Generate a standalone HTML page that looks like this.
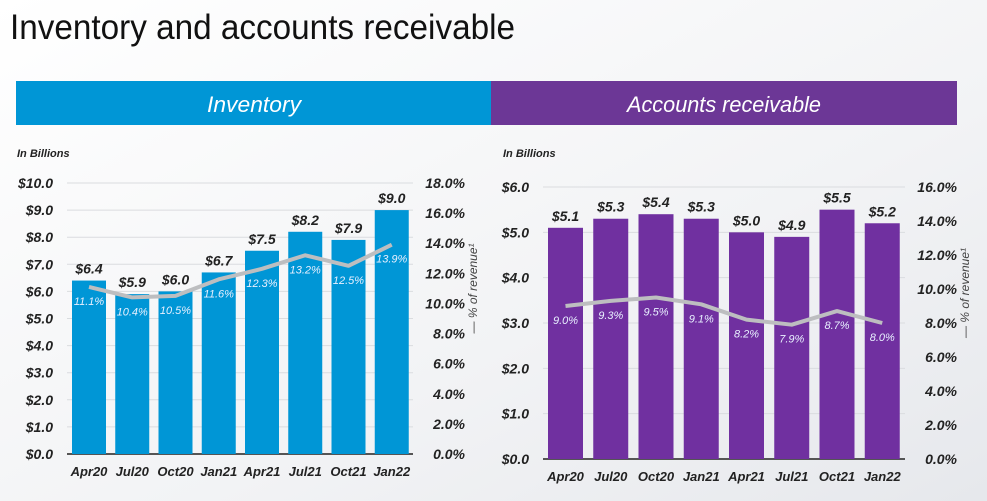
<!DOCTYPE html>
<html><head><meta charset="utf-8"><style>
body{margin:0;width:987px;height:501px;overflow:hidden;background:#f3f4f6}
svg{display:block;font-family:"Liberation Sans",sans-serif}
</style></head><body>
<svg id="s" width="987" height="501" viewBox="0 0 987 501">
<defs><linearGradient id="bg" x1="0" y1="0" x2="1" y2="1"><stop offset="0" stop-color="#ffffff"/><stop offset="0.6" stop-color="#f2f3f5"/><stop offset="1" stop-color="#e6e8ec"/></linearGradient></defs>
<rect width="987" height="501" fill="url(#bg)"/>
<text x="10" y="39" font-size="35" fill="#111" textLength="505" lengthAdjust="spacingAndGlyphs">Inventory and accounts receivable</text>
<rect x="16" y="81" width="475" height="44" fill="#0096d6"/>
<rect x="491" y="81" width="466" height="44" fill="#6c3796"/>
<text x="254" y="112" font-size="22" font-style="italic" fill="#fff" text-anchor="middle" textLength="94" lengthAdjust="spacingAndGlyphs">Inventory</text>
<text x="724" y="112" font-size="22" font-style="italic" fill="#fff" text-anchor="middle" textLength="194" lengthAdjust="spacingAndGlyphs">Accounts receivable</text>
<g id="c1"></g><g id="c2"></g>
</svg>
<script>
const categories=["Apr20","Jul20","Oct20","Jan21","Apr21","Jul21","Oct21","Jan22"];
const invValues=[6.4,5.9,6.0,6.7,7.5,8.2,7.9,9.0];
const invPct=[11.1,10.4,10.5,11.6,12.3,13.2,12.5,13.9];
const invLeftTicks=[0,1,2,3,4,5,6,7,8,9,10];
const invRightTicks=[0,2,4,6,8,10,12,14,16,18];
const arValues=[5.1,5.3,5.4,5.3,5.0,4.9,5.5,5.2];
const arPct=[9.0,9.3,9.5,9.1,8.2,7.9,8.7,8.0];
const arLeftTicks=[0,1,2,3,4,5,6];
const arRightTicks=[0,2,4,6,8,10,12,14,16];
const NS="http://www.w3.org/2000/svg";
function el(p,t,a,txt){const e=document.createElementNS(NS,t);for(const k in a)e.setAttribute(k,a[k]);if(txt!==undefined)e.textContent=txt;p.appendChild(e);return e;}
function chart(g,o){
  const {x0,x1,yb,yt,lmax,rmax,vals,pct,lt,rt,color,barOff,barW,lx,rx,prefix,ux,uy}=o;
  const band=(x1-x0)/categories.length;
  const yL=v=>yb-(v/lmax)*(yb-yt), yR=v=>yb-(v/rmax)*(yb-yt);
  const xB=i=>x0+i*band+barOff;
  let t=el(g,'text',{x:ux,y:uy,'font-size':11,'font-weight':'bold','font-style':'italic',fill:'#222'},'In Billions');
  
  lt.forEach(v=>{const y=yL(v);
    const l=el(g,'line',{x1:x0,x2:x1,y1:y,y2:y,stroke:v===0?'#555':'#dadcdf','stroke-width':v===0?2:1});
    
    const tx=el(g,'text',{x:lx,y:y+5,'font-size':14,'font-weight':'bold','font-style':'italic',fill:'#222','text-anchor':'end'},'$'+v.toFixed(1));
    });
  rt.forEach(v=>{const y=yR(v);
    const tx=el(g,'text',{x:rx,y:y+5,'font-size':14,'font-weight':'bold','font-style':'italic',fill:'#222','text-anchor':'end'},v.toFixed(1)+'%');
    });
  vals.forEach((v,i)=>{const x=xB(i),y=yL(v);
    const r=el(g,'rect',{x:x,y:y,width:barW,height:yb-y,fill:color});
    
    const tx=el(g,'text',{x:x+barW/2,y:y-7,'font-size':14,'font-weight':'bold','font-style':'italic',fill:'#222','text-anchor':'middle'},'$'+v.toFixed(1));
    
    const c=el(g,'text',{x:x+barW/2,y:yb+22,'font-size':13,'font-weight':'bold','font-style':'italic',fill:'#222','text-anchor':'middle'},categories[i]);
    });
  const pts=pct.map((p,i)=>(xB(i)+barW/2)+','+yR(p)).join(' ');
  const pl=el(g,'polyline',{points:pts,fill:'none',stroke:'#bdbec0','stroke-width':4,'stroke-linejoin':'round'});
  
  pct.forEach((p,i)=>{const tx=el(g,'text',{x:xB(i)+barW/2,y:yR(p)+18,'font-size':11,'font-style':'italic',fill:'#e8f0ff','text-anchor':'middle'},p.toFixed(1)+'%');
    });
  const ax=rx+12, ay=(yb+yt)/2-30;
  const lg=el(g,'text',{x:0,y:0,'font-size':12,'font-style':'italic',fill:'#444','text-anchor':'middle',transform:`translate(${ax},${ay}) rotate(-90)`},'— % of revenue¹');
  
}
chart(document.getElementById('c1'),{x0:67,x1:413,yb:454,yt:183,lmax:10,rmax:18,vals:invValues,pct:invPct,lt:invLeftTicks,rt:invRightTicks,color:'#0096d6',barOff:5,barW:34,lx:53,rx:465,prefix:'inventory',ux:17,uy:157});
chart(document.getElementById('c2'),{x0:543,x1:905,yb:459,yt:187,lmax:6,rmax:16,vals:arValues,pct:arPct,lt:arLeftTicks,rt:arRightTicks,color:'#7030a0',barOff:5,barW:35,lx:529,rx:957,prefix:'ar',ux:503,uy:157});
</script>
</body></html>
